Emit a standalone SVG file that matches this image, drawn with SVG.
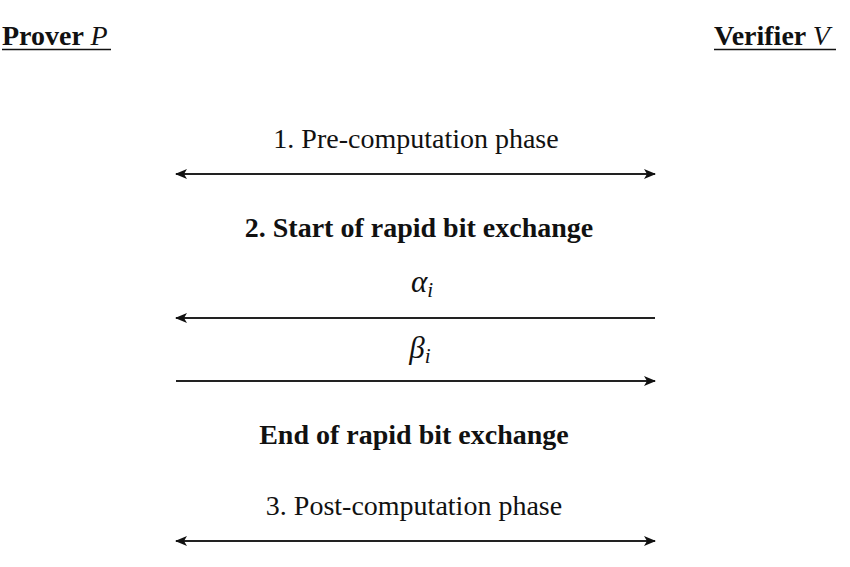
<svg xmlns="http://www.w3.org/2000/svg" width="850" height="567" viewBox="0 0 850 567">
<style>
  text { font-family: "Liberation Serif", "Times New Roman", serif; fill: #111; }
  .t { font-size: 28px; }
  .b { font-weight: bold; }
  .m { font-style: italic; font-weight: normal; }
  .lbl { font-size: 28px; text-anchor: middle; }
  .gr { font-size: 31px; font-style: italic; }
  .sub { font-size: 21px; font-style: italic; }
  .conn line { stroke: #222; stroke-width: 2; fill: none; }
  .ul { stroke: #111; stroke-width: 1.6; }
</style>
<defs>
  <marker id="ah" viewBox="0 0 12 10" refX="11" refY="5" markerWidth="12" markerHeight="10" markerUnits="userSpaceOnUse" orient="auto-start-reverse">
    <path d="M0,0 L12,5 L0,10 L3,5 Z" fill="#111"/>
  </marker>
</defs>
<rect width="850" height="567" fill="#fff"/>

<g id="prover">
  <text class="t b" x="2" y="45">Prover <tspan class="m">P</tspan></text>
  <line class="ul" x1="2" y1="49.5" x2="111" y2="49.5"/>
</g>
<g id="verifier">
  <text class="t b" x="714" y="45">Verifier <tspan class="m">V</tspan></text>
  <line class="ul" x1="714" y1="49.5" x2="836" y2="49.5"/>
</g>

<g id="label-pre"><text class="lbl" x="416" y="148">1. Pre-computation phase</text></g>
<g id="label-start"><text class="lbl b" x="419" y="237">2. Start of rapid bit exchange</text></g>
<g id="label-alpha"><text class="lbl" x="422" y="292"><tspan class="gr">α</tspan><tspan class="sub" dy="5">i</tspan></text></g>
<g id="label-beta"><text class="lbl" x="420" y="358"><tspan class="gr">β</tspan><tspan class="sub" dy="5">i</tspan></text></g>
<g id="label-end"><text class="lbl b" x="414" y="444">End of rapid bit exchange</text></g>
<g id="label-post"><text class="lbl" x="414" y="515">3. Post-computation phase</text></g>

<g id="connectors" class="conn">
  <line x1="176" y1="174" x2="655" y2="174" marker-start="url(#ah)" marker-end="url(#ah)"/>
  <line x1="655" y1="318" x2="176" y2="318" marker-end="url(#ah)"/>
  <line x1="176" y1="381" x2="655" y2="381" marker-end="url(#ah)"/>
  <line x1="176" y1="541" x2="655" y2="541" marker-start="url(#ah)" marker-end="url(#ah)"/>
</g>
</svg>
